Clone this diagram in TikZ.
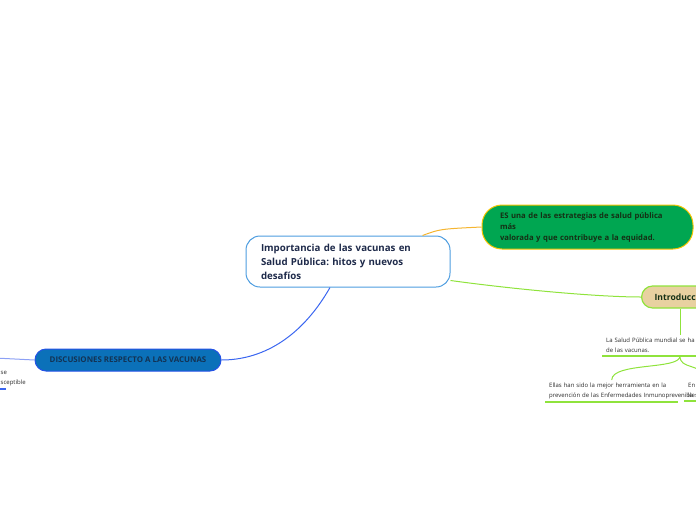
\documentclass[tikz,border=0pt]{standalone}
\usepackage{fontspec}
\setmainfont{Open Sans}
\frenchspacing
\definecolor{cborder}{HTML}{4D9DE0}
\definecolor{ctext}{HTML}{1E2A4A}
\definecolor{orangeln}{HTML}{F5B531}
\definecolor{gfill}{HTML}{00A651}
\definecolor{gborder}{HTML}{F5C400}
\definecolor{gtext}{HTML}{153015}
\definecolor{lgreen}{HTML}{8FE33C}
\definecolor{ifill}{HTML}{E8D1A0}
\definecolor{blueln}{HTML}{3A66F0}
\definecolor{dfill}{HTML}{0B71B9}
\definecolor{dborder}{HTML}{2452E6}
\definecolor{dtext}{HTML}{133354}
\definecolor{stub}{HTML}{8CA0F5}
\definecolor{stext}{HTML}{2A2A2A}
\tikzset{
  central/.style={draw=cborder, line width=1pt, fill=white, rounded corners=14pt,
    minimum width=204pt, minimum height=51pt, text width=174pt, inner xsep=15pt,
    align=left, text=ctext, font=\fontsize{9.7}{14}\selectfont\bfseries},
  greenbox/.style={draw=gborder, line width=1pt, fill=gfill, rounded corners=20pt,
    minimum width=211pt, minimum height=44pt, text width=175pt, inner xsep=18pt,
    align=left, text=gtext, font=\fontsize{7.7}{11}\selectfont\bfseries},
  introbox/.style={draw=lgreen, line width=1.2pt, fill=ifill, rounded corners=11pt,
    minimum height=22pt, inner xsep=13pt, text=gtext, font=\fontsize{8.6}{10}\selectfont\bfseries},
  discbox/.style={draw=dborder, line width=1pt, fill=dfill, rounded corners=11pt,
    minimum width=186pt, minimum height=22pt, text=dtext, font=\fontsize{7.9}{9}\selectfont\bfseries},
  leaf/.style={align=left, inner xsep=4pt, inner ysep=3pt, text=stext,
    font=\fontsize{6}{10}\selectfont},
  gline/.style={draw=lgreen, line width=1pt},
  gunder/.style={draw=lgreen, line width=2pt},
}
\begin{document}
\begin{tikzpicture}[x=1pt,y=-1pt]
\useasboundingbox (0,0) rectangle (696,520);
\clip (0,0) rectangle (696,520);
% nodes
\node[central] (c) at (348,261.5) {Importancia de las vacunas en\\Salud Pública: hitos y nuevos\\desafíos};
\node[greenbox] (g) at (587.5,227) {ES una de las estrategias de salud pública\\más\\valorada y que contribuye a la equidad.};
\node[introbox, anchor=west] (intro) at (641,297) {Introducción};
\node[discbox] (disc) at (128,360) {DISCUSIONES RESPECTO A LAS VACUNAS};
\node[leaf, anchor=north west, text width=150pt] (ls) at (602,335) {\mbox{La Salud Pública mundial se ha b}\\de las vacunas.};
\node[leaf, anchor=north west, text width=125pt] (el) at (545,380) {\mbox{Ellas han sido la mejor herramienta en la}\\\mbox{prevención de las Enfermedades Inmunoprevenibles}};
\node[leaf, anchor=north west, text width=40pt] (en) at (684,380) {En\\la};
\node[leaf, anchor=north west, inner xsep=0pt] (lt) at (0.5,368) {se\\sceptible};
\coordinate (b1) at (680,356);
\coordinate (lft) at (-5,358);
% underlines
\draw[gunder] (ls.south west) -- (ls.south east);
\draw[gunder] (el.south west) -- (el.south east);
\draw[gunder] (en.south west) -- (en.south east);
\draw[draw=blueln, line width=2pt] (lt.south west) ++(-5,0) -- ++(10,0);
% connectors
\draw[orangeln, line width=1pt] (c.north east) ++(-28,0) .. controls (440,229) .. (g.west);
\draw[gline] (c.east) ++(0,19) .. controls (520,290) and (600,297) .. (intro.west);
\draw[gline] (intro.south west -| b1) -- (ls.north -| b1);
\draw[gline] (ls.south -| b1) .. controls (680,370) and (612,362) .. (el.north);
\draw[gline] (ls.south -| b1) .. controls (680,370) and (700,362) .. (en.north);
\draw[blueln, line width=1pt] (c.south) ++(-18,0) .. controls (300,340) and (260,360) .. (disc.east);
\draw[stub, line width=1pt] (disc.west) -- (lft);
\end{tikzpicture}
\end{document}
